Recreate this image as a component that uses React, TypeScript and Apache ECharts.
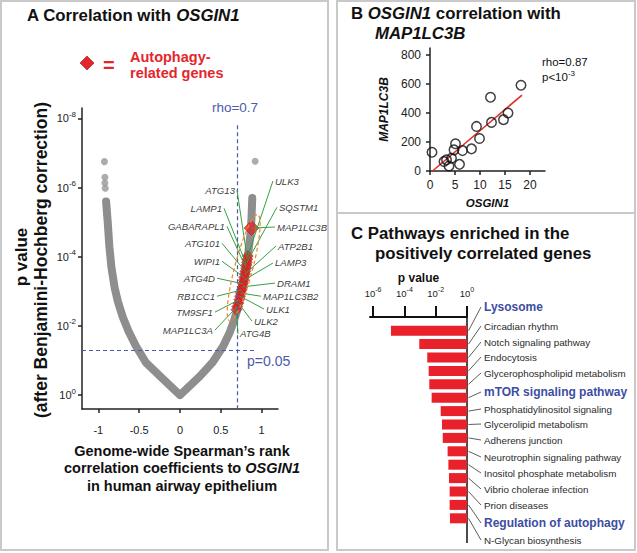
import React, { useEffect, useRef } from 'react';
import * as echarts from 'echarts';

const FONT = '"Liberation Sans", Arial, Helvetica, sans-serif';
const BLUE = '#4b5ba8';
const RED = '#e3262c';

// ---------- Panel A: volcano-like curve ----------
const leftArm = [
  [-0.905, 5.6], [-0.885, 5.0], [-0.865, 4.3], [-0.84, 3.7], [-0.8, 3.1], [-0.76, 2.7],
  [-0.7, 2.25], [-0.63, 1.85], [-0.54, 1.42], [-0.42, 0.95], [-0.245, 0.55], [0, 0],
];
const rightArm = [
  [0.245, 0.55], [0.4, 0.95], [0.53, 1.42], [0.61, 1.82], [0.66, 2.14], [0.7, 2.45],
  [0.76, 3.05], [0.8, 3.5], [0.83, 4.0], [0.85, 4.4], [0.865, 4.7], [0.875, 5.1], [0.885, 5.7],
];
const outlierDots = [[-0.925, 6.75], [-0.92, 6.3], [-0.92, 6.13], [-0.915, 5.98], [0.92, 6.76]];

const geneNames = ['ULK3', 'ATG13', 'SQSTM1', 'LAMP1', 'GABARAPL1', 'ATG101', 'ATP2B1', 'WIPI1', 'LAMP3',
  'ATG4D', 'DRAM1', 'RB1CC1', 'MAP1LC3B2', 'ULK1', 'TM9SF1', 'ULK2', 'MAP1LC3A', 'ATG4B', 'MAP1LC3B'];
const geneRho = [0.83, 0.825, 0.82, 0.815, 0.81, 0.8, 0.795, 0.785, 0.78, 0.77, 0.765, 0.755, 0.745,
  0.735, 0.725, 0.715, 0.7, 0.69, 0.875];
const geneNegLogP = [4.02, 3.93, 3.84, 3.76, 3.67, 3.58, 3.5, 3.41, 3.32, 3.22, 3.13, 3.04, 2.95,
  2.86, 2.76, 2.66, 2.56, 2.47, 4.83];
const highlightedGene = 'MAP1LC3B';
const rhoCutoff = 0.7;
const pCutoffNegLog = 1.3; // p = 0.05
const yTicksA = [0, 2, 4, 6, 8];
const xTicksA = [-1, -0.5, 0, 0.5, 1];

// label layout (anchor of label / leader line start, side)
const geneLabelSide = ['right', 'left', 'right', 'left', 'left', 'left', 'right', 'left', 'right',
  'left', 'right', 'left', 'right', 'right', 'left', 'right', 'left', 'right', 'right'];
const geneLabelAnchor = [
  [1.138, 6.19], [0.698, 5.92], [1.187, 5.43], [0.539, 5.4], [0.575, 4.88], [0.514, 4.39],
  [1.175, 4.31], [0.514, 3.87], [1.138, 3.82], [0.453, 3.38], [1.163, 3.24], [0.453, 2.86],
  [0.991, 2.86], [1.028, 2.49], [0.428, 2.4], [0.881, 2.14], [0.428, 1.88], [0.71, 1.77], [1.163, 4.86],
];

// ---------- Panel B ----------
const osgin1 = [0.4, 2.8, 3.3, 3.8, 4.3, 5.1, 4.8, 5.9, 6.5, 8.3, 9.3, 9.9, 12.1, 12.3, 14.7, 15.6, 18.2];
const map1lc3b = [130, 65, 77, 35, 88, 188, 146, 46, 141, 153, 308, 225, 510, 336, 355, 401, 593];
const fitLine = [[0.5, 0], [18.4, 525]];
const xTicksB = [0, 5, 10, 15, 20];
const yTicksB = [0, 200, 400, 600, 800];

// ---------- Panel C ----------
const pathways = ['Lysosome', 'Circadian rhythm', 'Notch signaling pathway', 'Endocytosis',
  'Glycerophospholipid metabolism', 'mTOR signaling pathway', 'Phosphatidylinositol signaling',
  'Glycerolipid metabolism', 'Adherens junction', 'Neurotrophin signaling pathway',
  'Inositol phosphate metabolism', 'Vibrio cholerae infection', 'Prion diseases',
  'Regulation of autophagy', 'N-Glycan biosynthesis'];
const pathwayNegLogP = [4.86, 3.05, 2.54, 2.45, 2.41, 2.26, 1.68, 1.6, 1.55, 1.24, 1.19, 1.15, 1.11, 1.11, 1.09];
const highlightedPathways = ['Lysosome', 'mTOR signaling pathway', 'Regulation of autophagy'];
const xTicksC = [0, 2, 4, 6];
const pathwayLabelY = [307, 326, 342, 357, 373, 392, 409, 424, 440, 457, 473, 489, 505, 523, 540];

const supFmt = (v: number) => `{b|10}{s|${v === 0 ? '0' : '-' + v}}`;

function buildOption() {
  const axisLine = { show: true, lineStyle: { color: '#222', width: 1.5 } };
  return {
    animation: false,
    backgroundColor: '#fff',
    textStyle: { fontFamily: FONT },
    grid: [
      { left: 82, top: 108, width: 196, height: 301 },
      { left: 430, top: 48, width: 115, height: 123 },
      { left: 370, top: 324, width: 97, height: 201 },
    ],
    xAxis: [
      {
        gridIndex: 0, type: 'value', min: -1.2, max: 1.2,
        splitLine: { show: false },
        axisLine: { onZero: false, ...axisLine },
        axisTick: { show: true, customValues: xTicksA, length: 4, lineStyle: { color: '#222', width: 1.5 } },
        axisLabel: { customValues: xTicksA, margin: 15, fontSize: 11, color: '#222', fontFamily: FONT, formatter: (v: number) => String(v) },
      },
      {
        gridIndex: 1, type: 'value', min: 0, max: 23,
        splitLine: { show: false },
        axisLine: { onZero: false, ...axisLine },
        axisTick: { show: true, customValues: xTicksB, length: 4, lineStyle: { color: '#222', width: 1.5 } },
        axisLabel: { customValues: xTicksB, margin: 8, fontSize: 12, color: '#222', fontFamily: FONT },
        name: 'OSGIN1', nameLocation: 'middle', nameGap: 26,
        nameTextStyle: { fontSize: 11.5, fontWeight: 'bold', fontStyle: 'italic', color: '#111', fontFamily: FONT },
      },
      {
        gridIndex: 2, type: 'value', min: 0, max: 6.2, inverse: true, position: 'top', offset: 7,
        splitLine: { show: false },
        axisLine: { show: true, onZero: false, lineStyle: { color: '#111', width: 2 } },
        axisTick: { show: true, customValues: xTicksC, length: 11, lineStyle: { color: '#111', width: 2 } },
        axisLabel: {
          customValues: xTicksC, margin: 17, formatter: supFmt,
          rich: {
            b: { fontSize: 9.5, lineHeight: 14, color: '#222', fontFamily: FONT },
            s: { fontSize: 7, verticalAlign: 'top', color: '#222', fontFamily: FONT },
          },
        },
        name: 'p value', nameLocation: 'middle', nameGap: 33,
        nameTextStyle: { fontSize: 12, fontWeight: 'bold', color: '#111', fontFamily: FONT },
      },
    ],
    yAxis: [
      {
        gridIndex: 0, type: 'value', min: -0.4, max: 8.3,
        splitLine: { show: false },
        axisLine: { onZero: false, ...axisLine },
        axisTick: { show: true, customValues: yTicksA, length: 4, lineStyle: { color: '#222', width: 1.5 } },
        axisLabel: {
          customValues: yTicksA, margin: 6, formatter: supFmt,
          rich: {
            b: { fontSize: 11, lineHeight: 16, color: '#222', fontFamily: FONT },
            s: { fontSize: 8, verticalAlign: 'top', color: '#222', fontFamily: FONT },
          },
        },
      },
      {
        gridIndex: 1, type: 'value', min: 0, max: 850,
        splitLine: { show: false },
        axisLine: { onZero: false, ...axisLine },
        axisTick: { show: true, customValues: yTicksB, length: 4, lineStyle: { color: '#222', width: 1.5 } },
        axisLabel: { customValues: yTicksB, margin: 9, fontSize: 12, color: '#222', fontFamily: FONT },
        name: 'MAP1LC3B', nameLocation: 'middle', nameGap: 40, nameRotate: 90,
        nameTextStyle: { fontSize: 12, fontWeight: 'bold', fontStyle: 'italic', color: '#111', fontFamily: FONT },
      },
      {
        gridIndex: 2, type: 'category', data: pathways, inverse: true, show: false,
      },
    ],
    series: [
      {
        type: 'line', xAxisIndex: 0, yAxisIndex: 0, silent: true,
        data: leftArm.concat(rightArm), showSymbol: false, symbol: 'none',
        lineStyle: { color: '#8e8e8e', width: 8, cap: 'round', join: 'round' },
        z: 2,
        markLine: {
          silent: true, symbol: ['none', 'none'], label: { show: false },
          lineStyle: { color: BLUE, width: 1.2, type: [4, 3] },
          data: [
            [{ coord: [rhoCutoff, 7.8] }, { coord: [rhoCutoff, -0.4] }],
            [{ coord: [-1.2, pCutoffNegLog] }, { coord: [0.93, pCutoffNegLog] }],
          ],
        },
      },
      {
        type: 'scatter', xAxisIndex: 0, yAxisIndex: 0, silent: true, z: 2,
        data: outlierDots, symbolSize: 7, itemStyle: { color: '#979797' },
      },
      {
        type: 'scatter', xAxisIndex: 0, yAxisIndex: 0, silent: true, z: 4,
        symbol: 'diamond',
        data: geneNames.map((g, i) => ({
          name: g, value: [geneRho[i], geneNegLogP[i]],
          symbolSize: g === highlightedGene ? 15 : 11,
        })),
        itemStyle: { color: RED, borderColor: '#9a1414', borderWidth: 0.6 },
      },
      {
        type: 'lines', coordinateSystem: 'cartesian2d', xAxisIndex: 0, yAxisIndex: 0, silent: true, z: 5,
        lineStyle: { color: '#35a042', width: 1, opacity: 1 },
        data: geneNames.map((g, i) => ({ coords: [geneLabelAnchor[i], [geneRho[i], geneNegLogP[i]]] })),
      },
      {
        type: 'scatter', xAxisIndex: 0, yAxisIndex: 0, silent: true, z: 6,
        symbolSize: 0,
        data: geneNames.map((g, i) => ({
          name: g, value: geneLabelAnchor[i],
          label: { position: geneLabelSide[i] },
        })),
        label: {
          show: true, formatter: '{b}', distance: 2, fontSize: 9.6, fontStyle: 'italic',
          color: '#000', fontFamily: FONT,
        },
      },
      {
        type: 'line', xAxisIndex: 1, yAxisIndex: 1, silent: true, z: 2,
        data: fitLine, showSymbol: false, symbol: 'none',
        lineStyle: { color: '#e0302a', width: 1.6 },
      },
      {
        type: 'scatter', xAxisIndex: 1, yAxisIndex: 1, silent: true, z: 3,
        data: osgin1.map((x, i) => [x, map1lc3b[i]]),
        symbol: 'circle', symbolSize: 9.5,
        itemStyle: { color: 'rgba(255,255,255,0)', borderColor: '#111', borderWidth: 1.5 },
      },
      {
        type: 'bar', xAxisIndex: 2, yAxisIndex: 2, silent: true,
        data: pathwayNegLogP, barWidth: 10,
        itemStyle: { color: '#e8212a' },
      },
    ],
  };
}

function buildGraphic(chart: any) {
  const g: any[] = [];
  const border = { fill: 'none', stroke: '#c9c9c9', lineWidth: 2 };
  g.push({ type: 'rect', shape: { x: 1, y: 1, width: 327, height: 549 }, style: border, silent: true });
  g.push({ type: 'rect', shape: { x: 337, y: 1, width: 298, height: 212 }, style: border, silent: true });
  g.push({ type: 'rect', shape: { x: 337, y: 213, width: 298, height: 337 }, style: border, silent: true });

  const titleRich = {
    b: { fontSize: 16.8, fontWeight: 'bold', fontFamily: FONT, fill: '#111' },
    bi: { fontSize: 16.8, fontWeight: 'bold', fontStyle: 'italic', fontFamily: FONT, fill: '#111' },
  };
  const txt = (x: number, y: number, text: string, rich: any, extra: any = {}) => ({
    type: 'text', x, y, silent: true, ...extra,
    style: { text, x: 0, y: 0, align: 'left', verticalAlign: 'middle', rich, ...(extra.style || {}) },
  });
  g.push(txt(27, 15, '{b|A Correlation with }{bi|OSGIN1}', titleRich));
  g.push(txt(351, 13, '{b|B }{bi|OSGIN1}{b| correlation with}', titleRich));
  g.push(txt(375, 33, '{bi|MAP1LC3B}', titleRich));
  g.push(txt(351, 233, '{b|C Pathways enriched in the}', titleRich));
  g.push(txt(375, 253, '{b|positively correlated genes}', titleRich));

  // legend for autophagy genes
  const lx = 87, ly = 63, lr = 7;
  g.push({ type: 'polygon', silent: true, shape: { points: [[lx, ly - lr], [lx + lr, ly], [lx, ly + lr], [lx - lr, ly]] }, style: { fill: RED, stroke: '#9a1414', lineWidth: 0.6 } });
  const legRich = { r: { fontSize: 14.5, fontWeight: 'bold', fontFamily: FONT, fill: RED }, e: { fontSize: 20, fontWeight: 'bold', fontFamily: FONT, fill: RED } };
  g.push(txt(103, 65, '{e|=}', legRich));
  g.push(txt(130, 57, '{r|Autophagy-}', legRich));
  g.push(txt(130, 73, '{r|related genes}', legRich));

  const blueRich = { t: { fontSize: 13.5, fontFamily: FONT, fill: BLUE } };
  g.push(txt(235, 107, '{t|rho=0.7}', blueRich, { style: { align: 'center' } }));
  g.push(txt(247, 361, '{t|p=0.05}', { t: { fontSize: 14, fontFamily: FONT, fill: BLUE } }));

  // axis titles of panel A
  const axRich = {
    b: { fontSize: 17, fontWeight: 'bold', fontFamily: FONT, fill: '#111' },
    b2: { fontSize: 17.5, fontWeight: 'bold', fontFamily: FONT, fill: '#111' },
    x: { fontSize: 14.5, fontWeight: 'bold', fontFamily: FONT, fill: '#111' },
    xi: { fontSize: 14.5, fontWeight: 'bold', fontStyle: 'italic', fontFamily: FONT, fill: '#111' },
  };
  g.push(txt(21, 257, '{b|p value}', axRich, { rotation: Math.PI / 2, style: { align: 'center' } }));
  g.push(txt(41, 260, '{b2|(after Benjamini-Hochberg correction)}', axRich, { rotation: Math.PI / 2, style: { align: 'center' } }));
  g.push(txt(182, 451, '{x|Genome-wide Spearman\u2019s rank}', axRich, { style: { align: 'center' } }));
  g.push(txt(182, 468, '{x|correlation coefficients to }{xi|OSGIN1}', axRich, { style: { align: 'center' } }));
  g.push(txt(182, 486, '{x|in human airway epithelium}', axRich, { style: { align: 'center' } }));

  // panel B annotation
  const bRich = {
    t: { fontSize: 11.5, fontFamily: FONT, fill: '#111', lineHeight: 15 },
    s: { fontSize: 8, fontFamily: FONT, fill: '#111', verticalAlign: 'top' },
  };
  g.push(txt(542, 62, '{t|rho=0.87}', bRich));
  g.push(txt(542, 77, '{t|p<10}{s|-3}', bRich));

  // orange ellipse around the autophagy cluster
  const ec = chart.convertToPixel({ gridIndex: 0 }, [0.78, 3.68]);
  g.push({
    type: 'ellipse', silent: true, x: ec[0], y: ec[1], rotation: -0.257, z: 10,
    shape: { cx: 0, cy: 0, rx: 9, ry: 55 },
    style: { fill: 'none', stroke: '#f0862c', lineWidth: 1.2, lineDash: [4, 2.5] },
  });

  // panel C: vertical axis line, leader lines and labels
  const x0 = chart.convertToPixel({ gridIndex: 2 }, [0, 0])[0];
  g.push({ type: 'line', silent: true, shape: { x1: x0, y1: 317, x2: x0, y2: 543 }, style: { stroke: '#111', lineWidth: 1.5 } });
  pathways.forEach((p, i) => {
    const by = chart.convertToPixel({ gridIndex: 2 }, [0, i])[1];
    const ly2 = pathwayLabelY[i];
    g.push({ type: 'line', silent: true, shape: { x1: x0 + 1.5, y1: by, x2: x0 + 14, y2: ly2 }, style: { stroke: '#333', lineWidth: 0.8 } });
    const hl = highlightedPathways.includes(p);
    g.push({
      type: 'text', silent: true, x: x0 + 17, y: ly2,
      style: {
        text: p, x: 0, y: 0, align: 'left', verticalAlign: 'middle',
        fontFamily: FONT, fontSize: hl ? 12 : 9.8, fontWeight: hl ? 'bold' : 'normal',
        fill: hl ? '#3c4da3' : '#2a2a2a',
      },
    });
  });
  return g;
}

export default function App() {
  const ref = useRef<HTMLDivElement>(null);
  useEffect(() => {
    const chart = echarts.init(ref.current as HTMLDivElement, null, { renderer: 'svg' });
    chart.setOption(buildOption() as any);
    chart.setOption({ graphic: buildGraphic(chart) } as any);
    return () => chart.dispose();
  }, []);
  return (
    <div
      ref={ref}
      style={{ position: 'fixed', left: 0, top: 0, width: 637, height: 553, background: '#fff' }}
    />
  );
}
